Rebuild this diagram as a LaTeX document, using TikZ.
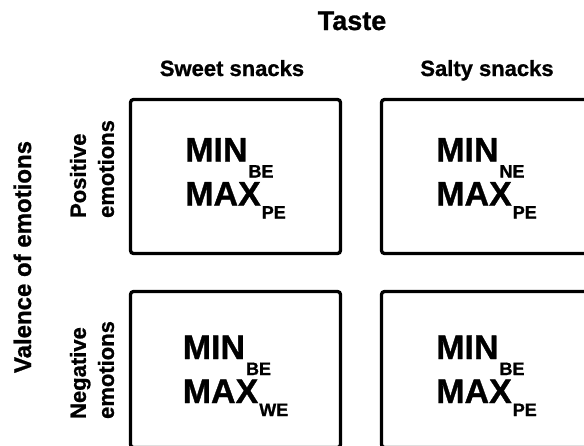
\documentclass[tikz,border=0pt]{standalone}
\usepackage{fontspec}
\setmainfont{Liberation Sans}[BoldFeatures={FakeBold=1}]
\newcommand\cellsub[2]{\kern1pt\raisebox{#1}{\fontsize{18}{18}\selectfont #2}}
\newcommand\celltext[3]{\rule{0pt}{#3}MIN\cellsub{-16pt}{#1}\\MAX\cellsub{-13pt}{#2}}
\tikzset{
  cellbox/.style={draw, line width=3.3pt, rounded corners=3pt, minimum width=210pt, minimum height=154pt,
    inner sep=0pt, outer sep=0pt, align=left, font={\fontsize{34}{44}\selectfont\bfseries}},
  head/.style={inner sep=0pt, font={\fontsize{22}{26}\selectfont\bfseries}},
  rowlab/.style={inner sep=0pt, rotate=90, align=left, font={\fontsize{22}{28}\selectfont\bfseries}},
}
\begin{document}
\begin{tikzpicture}[x=1pt,y=-1pt]
\clip (0,0) rectangle (584,445);
\fill[white] (0,0) rectangle (584,445);
\node[inner sep=0pt, anchor=base, font={\fontsize{27}{30}\selectfont\bfseries}] (taste) at (352,30) {Taste};
\node[head, anchor=base] (sweet) at (232,76) {Sweet snacks};
\node[head, anchor=base] (salty) at (487,76) {Salty snacks};
\node[inner sep=0pt, anchor=base, rotate=90, font={\fontsize{24}{28}\selectfont\bfseries}] (valence) at (31,257) {Valence of emotions};
\node[rowlab] (pos) at (92,169) {Positive\\emotions};
\node[rowlab] (neg) at (92,370) {Negative\\emotions};
\node[cellbox] (tl) at (235.5,176.5) {\celltext{BE}{PE}{27pt}};
\node[cellbox] (tr) at (486.5,176.5) {\celltext{NE}{PE}{27pt}};
\node[cellbox, minimum height=156pt] (bl) at (235.5,369.5) {\celltext{BE}{WE}{36pt}};
\node[cellbox, minimum height=156pt] (br) at (486.5,369.5) {\celltext{BE}{PE}{36pt}};
\end{tikzpicture}
\end{document}
